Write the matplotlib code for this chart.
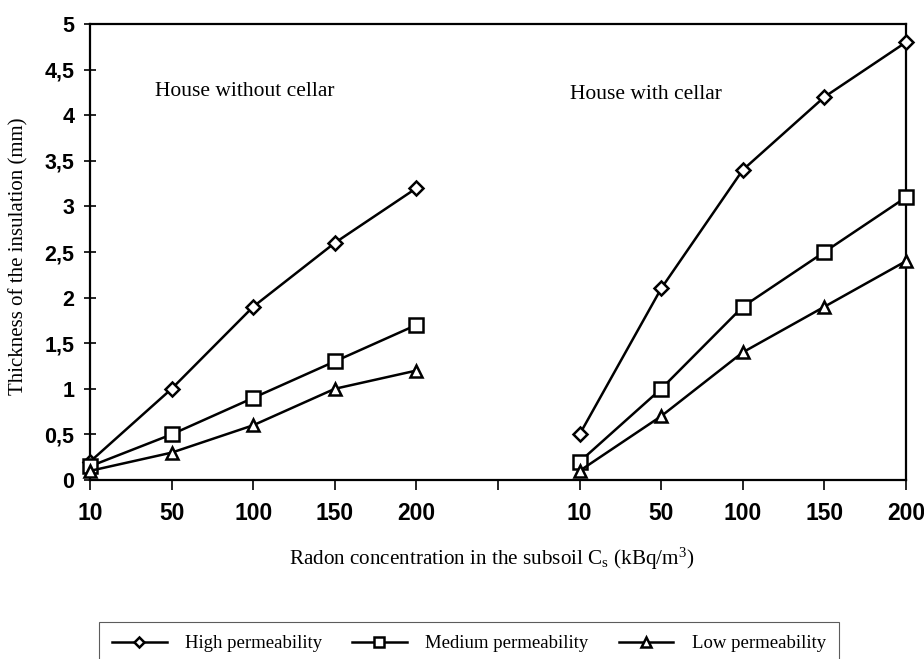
import matplotlib
matplotlib.use("Agg")
import matplotlib.pyplot as plt
import numpy as np

# radon concentration in subsoil (kBq/m3)
concentrations = [10, 50, 100, 150, 200]

# insulation thickness (mm), house without cellar
no_cellar_high = [0.2, 1.0, 1.9, 2.6, 3.2]
no_cellar_medium = [0.15, 0.5, 0.9, 1.3, 1.7]
no_cellar_low = [0.1, 0.3, 0.6, 1.0, 1.2]

# insulation thickness (mm), house with cellar
cellar_high = [0.5, 2.1, 3.4, 4.2, 4.8]
cellar_medium = [0.2, 1.0, 1.9, 2.5, 3.1]
cellar_low = [0.1, 0.7, 1.4, 1.9, 2.4]

series_labels = ["High permeability", "Medium permeability", "Low permeability"]
y_ticks = [0, 0.5, 1, 1.5, 2, 2.5, 3, 3.5, 4, 4.5, 5]

plt.rcParams["mathtext.fontset"] = "custom"
plt.rcParams["mathtext.rm"] = "Liberation Serif"
plt.rcParams["mathtext.it"] = "Liberation Serif:italic"

SERIF = "Liberation Serif"
SANS = "Liberation Sans"
W, H = 924, 659

fig = plt.figure(figsize=(W / 100, H / 100), dpi=100, facecolor="white")
ax = fig.add_axes([90 / W, 1 - 480 / H, (906 - 90) / W, (480 - 24) / H])

n = len(concentrations)
pos_a = np.arange(n)
pos_b = np.arange(n) + n + 1

markers = ["D", "s", "^"]
msizes = [7, 10, 9]
groups_a = [no_cellar_high, no_cellar_medium, no_cellar_low]
groups_b = [cellar_high, cellar_medium, cellar_low]

for vals_a, vals_b, m, ms, lab in zip(groups_a, groups_b, markers, msizes, series_labels):
    style = dict(color="black", lw=1.8, marker=m, ms=ms, mfc="white", mec="black",
                 mew=1.8, clip_on=False, zorder=3)
    ax.plot(pos_a, vals_a, label=lab, **style)
    ax.plot(pos_b, vals_b, **style)

ax.set_xlim(0, 2 * n)
ax.set_ylim(0, 5)
ax.set_xticks(np.arange(2 * n + 1))
ax.set_xticklabels([str(c) for c in concentrations] + [""] + [str(c) for c in concentrations])
ax.set_yticks(y_ticks)
ax.set_yticklabels([f"{v:g}".replace(".", ",") for v in y_ticks])

for lbl in ax.get_xticklabels():
    lbl.set_fontfamily(SANS)
    lbl.set_fontweight("bold")
    lbl.set_fontsize(16.5)
for lbl in ax.get_yticklabels():
    lbl.set_fontfamily(SANS)
    lbl.set_fontweight("bold")
    lbl.set_fontsize(15.5)

ax.tick_params(axis="x", direction="out", length=7, width=1.2, pad=9)
ax.tick_params(axis="y", direction="inout", length=8.5, width=1.2, pad=7)
for spine in ax.spines.values():
    spine.set_linewidth(1.6)

ax.text(0.8, 4.21, "House without cellar", family=SERIF, fontsize=15.5, va="baseline")
ax.text(5.88, 4.18, "House with cellar", family=SERIF, fontsize=15.5, va="baseline")

ax.set_ylabel("Thickness of the insulation (mm)", family=SERIF, fontsize=15)
ax.yaxis.set_label_coords((28 - 90) / 816, 0.49)
fig.text(492 / W, 1 - 565 / H, r"Radon concentration in the subsoil C$_\mathrm{s}$ (kBq/m$^3$)",
         family=SERIF, fontsize=15.2, ha="center", va="baseline")

leg_top = 1 - 622 / H
leg = fig.legend(loc="upper left", bbox_to_anchor=(99 / W, leg_top - 0.05, (839 - 99) / W, 0.05),
                 mode="expand", ncol=3, frameon=True, fancybox=False, edgecolor="#333333",
                 borderpad=0.7, borderaxespad=0, handlelength=2.9, handletextpad=1.0,
                 columnspacing=1.4, markerscale=0.75, prop={"family": SERIF, "size": 13.5})
leg.get_frame().set_linewidth(0.8)

fig.savefig("out.png", dpi=100, facecolor="white")
